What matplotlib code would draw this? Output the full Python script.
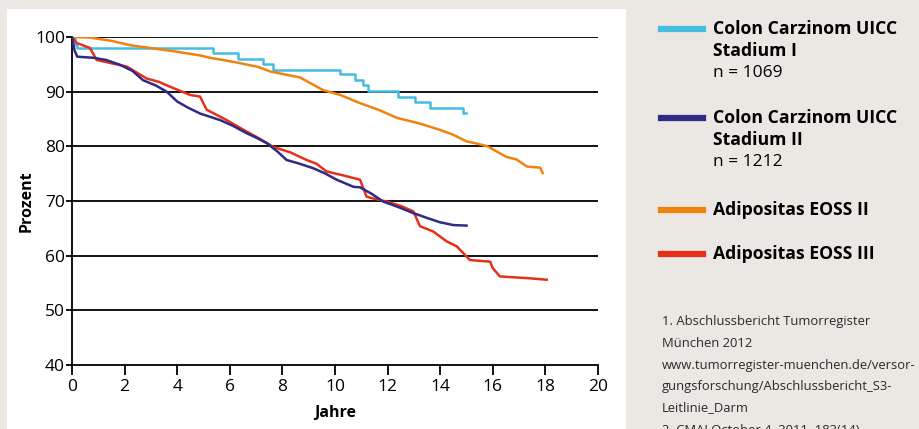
import matplotlib
matplotlib.use("Agg")
from matplotlib import pyplot as plt
from matplotlib.patches import Rectangle

plt.rcParams['font.family'] = ['Open Sans', 'DejaVu Sans']

# Kaplan-Meier curves (years, percent)
stage1_x = [0, 0.1, 0.2, 5.36, 6.3, 7.27, 7.65, 10.19, 10.76, 11.06, 11.25, 12.4, 13.04, 13.6, 14.87, 14.98]
stage1_y = [100, 98.5, 98.0, 97.1, 96.0, 95.0, 94.0, 93.2, 92.1, 91.2, 90.1, 89.0, 88.1, 87.0, 86.1, 86.1]

stage2_x = [0, 0.1, 0.2, 0.81, 1.3, 1.83, 2.3, 2.7, 3.2, 3.6, 4.0, 4.4, 4.87, 5.63, 6.1, 6.64, 7.0,
            7.4, 7.8, 8.16, 8.6, 9.17, 9.6, 10.06, 10.7, 10.95, 11.4, 11.83, 12.4, 12.97, 13.5, 14.0, 14.5, 15.0]
stage2_y = [100, 97.5, 96.4, 96.2, 95.8, 94.9, 93.8, 92.1, 91.1, 90.0, 88.2, 87.1, 86.0, 84.8, 83.8, 82.4, 81.6,
            80.6, 79.1, 77.5, 76.9, 76.0, 75.1, 73.9, 72.6, 72.5, 71.3, 69.9, 68.9, 67.8, 66.9, 66.1, 65.6, 65.5]

eoss2_x = [0, 0.68, 1.5, 2.2, 2.96, 4.0, 4.9, 5.25, 6.2, 7.1, 7.53, 8.67, 9.54, 10.2, 10.95, 11.7, 12.36,
           13.2, 14.0, 14.5, 15.0, 15.4, 15.8, 16.5, 16.9, 17.3, 17.8, 17.9]
eoss2_y = [100, 99.9, 99.3, 98.5, 98.0, 97.3, 96.6, 96.2, 95.4, 94.5, 93.7, 92.6, 90.3, 89.4, 87.9, 86.6, 85.2,
           84.2, 83.0, 82.1, 80.9, 80.5, 80.0, 78.1, 77.6, 76.3, 76.1, 75.1]

eoss3_x = [0, 0.18, 0.68, 0.94, 1.5, 2.08, 2.84, 3.3, 3.73, 4.49, 4.87, 5.12, 5.88, 6.64, 7.1, 7.65, 8.3,
           8.92, 9.3, 9.68, 10.3, 10.95, 11.2, 11.33, 11.96, 12.5, 12.98, 13.23, 13.74, 14.25, 14.63,
           15.13, 15.9, 16.0, 16.27, 17.29, 18.05]
eoss3_y = [100, 98.9, 98.0, 95.8, 95.2, 94.6, 92.4, 91.8, 90.9, 89.4, 89.1, 86.7, 84.8, 82.7, 81.5, 79.9, 78.9,
           77.5, 76.8, 75.4, 74.7, 73.9, 70.8, 70.6, 69.9, 69.1, 68.1, 65.4, 64.4, 62.6, 61.7,
           59.2, 58.9, 57.7, 56.2, 55.9, 55.6]

x_ticks = list(range(0, 21, 2))
y_ticks = list(range(40, 101, 10))

c_cyan = '#45bde2'
c_navy = '#2f2a86'
c_orange = '#f0820f'
c_red = '#e6301b'

fig = plt.figure(figsize=(9.19, 4.29), dpi=100)
fig.patch.set_facecolor('#ebe8e3')
fig.patches.append(Rectangle((7 / 919, 0), 619 / 919, 1 - 9 / 429, transform=fig.transFigure,
                             facecolor='white', edgecolor='none', zorder=-5))

ax = fig.add_axes([72 / 919, 1 - 365 / 429, 526 / 919, 328 / 429])
ax.set_zorder(2)
ax.set_facecolor('white')
ax.set_xlim(0, 20)
ax.set_ylim(40, 100)

for yv in y_ticks[1:]:
    ax.axhline(yv, color='black', lw=1.3, zorder=1)

ax.plot(stage1_x, stage1_y, color=c_cyan, lw=1.8, drawstyle='steps-post', zorder=3)
ax.plot(eoss2_x, eoss2_y, color=c_orange, lw=1.8, zorder=3)
ax.plot(eoss3_x, eoss3_y, color=c_red, lw=1.8, zorder=3)
ax.plot(stage2_x, stage2_y, color=c_navy, lw=1.8, zorder=3)

for s in ['top', 'right']:
    ax.spines[s].set_visible(False)
for s in ['left', 'bottom']:
    ax.spines[s].set_linewidth(1.3)
ax.set_xticks(x_ticks)
ax.set_yticks(y_ticks)
ax.tick_params(axis='x', direction='out', length=7, width=1.3, labelsize=12.5, pad=3)
ax.tick_params(axis='y', direction='out', length=4, width=1.3, labelsize=12.5, pad=1)
ax.set_xlabel('Jahre', fontsize=11.5, fontweight='bold', labelpad=7)
ax.set_ylabel('Prozent', fontsize=11.5, fontweight='bold', labelpad=0)

# legend drawn by hand on the right
entries = [
    (c_cyan, 29, ['Colon Carzinom UICC', 'Stadium I'], 'n = 1069'),
    (c_navy, 118, ['Colon Carzinom UICC', 'Stadium II'], 'n = 1212'),
    (c_orange, 210, ['Adipositas EOSS II'], None),
    (c_red, 254, ['Adipositas EOSS III'], None),
]
for col, ypix, lines, n in entries:
    fig.add_artist(plt.Line2D([661 / 919, 703 / 919], [1 - ypix / 429] * 2, color=col, lw=4.5,
                              transform=fig.transFigure))
    yy = ypix
    for ln in lines:
        fig.text(713 / 919, 1 - yy / 429, ln, fontsize=12.7, fontweight='bold', va='center', ha='left')
        yy += 22
    if n:
        fig.text(713 / 919, 1 - yy / 429, n, fontsize=12.5, va='center', ha='left')

notes = ['1. Abschlussbericht Tumorregister', 'München 2012',
         'www.tumorregister-muenchen.de/versor-', 'gungsforschung/Abschlussbericht_S3-',
         'Leitlinie_Darm', '2. CMAJ October 4, 2011, 183(14)']
for i, t in enumerate(notes):
    fig.text(662 / 919, 1 - (322 + i * 21.5) / 429, t, fontsize=9.4, color='#2a2a2a', va='center', ha='left')

fig.savefig('out.png', dpi=100, facecolor=fig.get_facecolor())
